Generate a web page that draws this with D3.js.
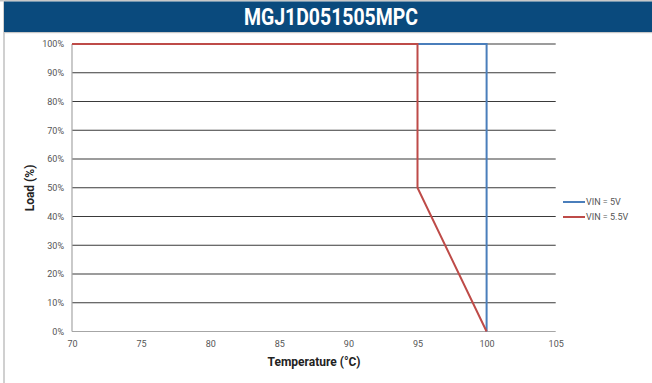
<!DOCTYPE html>
<html><head><meta charset="utf-8">
<script src="https://cdn.jsdelivr.net/npm/d3@7"></script>
<style>
html,body{margin:0;padding:0;background:#fff;}
svg{display:block;}
</style></head>
<body>
<svg id="c" width="652" height="383"></svg>
<script>
const title = "MGJ1D051505MPC";
const xTicks = [70,75,80,85,90,95,100,105];
const yTicks = [0,10,20,30,40,50,60,70,80,90,100];
const seriesNames = ["VIN = 5V","VIN = 5.5V"];
const seriesColors = ["#4a7ebb","#be4b48"];
const vin5Temp = [70,100,100];
const vin5Load = [100,100,0];
const vin55Temp = [70,95,95,100];
const vin55Load = [100,100,50,0];

const svg = d3.select("#c");
const font = "'Roboto','Liberation Sans',Arial,sans-serif";

// frame
svg.append("rect").attr("x",0).attr("y",0).attr("width",652).attr("height",383).attr("fill","#fff");
svg.append("rect").attr("x",0).attr("y",0).attr("width",652).attr("height",1.5).attr("fill","#c8c8c8");
svg.append("rect").attr("x",3).attr("y",0).attr("width",2).attr("height",383).attr("fill","#d0d0d0");
svg.append("rect").attr("x",4).attr("y",1.5).attr("width",648).attr("height",30.5).attr("fill","#0a4a7d");
svg.append("rect").attr("x",4).attr("y",32).attr("width",648).attr("height",1.2).attr("fill","#c8c8c8");
svg.append("text").attr("x",331).attr("y",25).attr("text-anchor","middle")
  .attr("font-family",font).attr("font-weight","bold").attr("font-size",23)
  .attr("textLength",174).attr("lengthAdjust","spacingAndGlyphs")
  .attr("fill","#fff").text(title);

const x = d3.scaleLinear().domain([70,105]).range([72,555.7]);
const y = d3.scaleLinear().domain([0,100]).range([331.5,44]);

// gridlines
const g = svg.append("g");
g.selectAll("line.grid").data(yTicks.filter(d=>d>0)).join("line")
  .attr("x1",x(70)).attr("x2",x(105)).attr("y1",d=>y(d)).attr("y2",d=>y(d))
  .attr("stroke","#3a3a3a").attr("stroke-width",1.2);
// axes lines
g.append("line").attr("x1",x(70)).attr("x2",x(70)).attr("y1",y(100)).attr("y2",y(0))
  .attr("stroke","#a6a6a6").attr("stroke-width",1.2);
g.append("line").attr("x1",x(70)).attr("x2",x(105)).attr("y1",y(0)).attr("y2",y(0))
  .attr("stroke","#a6a6a6").attr("stroke-width",1.2);

// tick labels via axes
const yAxis = d3.axisLeft(y).tickValues(yTicks).tickFormat(d=>d+"%").tickSize(0).tickPadding(8);
const ya = svg.append("g").attr("transform",`translate(${x(70)},0)`).call(yAxis);
ya.select(".domain").remove();
ya.selectAll("text").attr("font-family",font).attr("font-size",9).attr("fill","#555");

const xAxis = d3.axisBottom(x).tickValues(xTicks).tickSize(0).tickPadding(9);
const xa = svg.append("g").attr("transform",`translate(0,${y(0)})`).call(xAxis);
xa.select(".domain").remove();
xa.selectAll("text").attr("font-family",font).attr("font-size",9).attr("fill","#555");

// axis titles
svg.append("text").attr("x",314).attr("y",366).attr("text-anchor","middle")
  .attr("font-family",font).attr("font-weight","bold").attr("font-size",12).attr("fill","#222")
  .text("Temperature (°C)");
svg.append("text").attr("transform","translate(34,188) rotate(-90)").attr("text-anchor","middle")
  .attr("font-family",font).attr("font-weight","bold").attr("font-size",12).attr("fill","#222")
  .text("Load (%)");

// series
const line = d3.line().x(d=>x(d[0])).y(d=>y(d[1]));
const s5 = vin5Temp.map((t,i)=>[t,vin5Load[i]]);
const s55 = vin55Temp.map((t,i)=>[t,vin55Load[i]]);
[s5,s55].forEach((s,i)=>{
  svg.append("path").attr("d",line(s)).attr("fill","none")
    .attr("stroke",seriesColors[i]).attr("stroke-width",2);
});

// legend
const lg = svg.append("g");
seriesNames.forEach((n,i)=>{
  const yy = 202 + i*15;
  lg.append("line").attr("x1",563).attr("x2",585).attr("y1",yy).attr("y2",yy)
    .attr("stroke",seriesColors[i]).attr("stroke-width",2);
  lg.append("text").attr("x",586).attr("y",yy+3).attr("font-family",font)
    .attr("font-size",9).attr("fill","#555").text(n);
});
</script>
</body></html>
